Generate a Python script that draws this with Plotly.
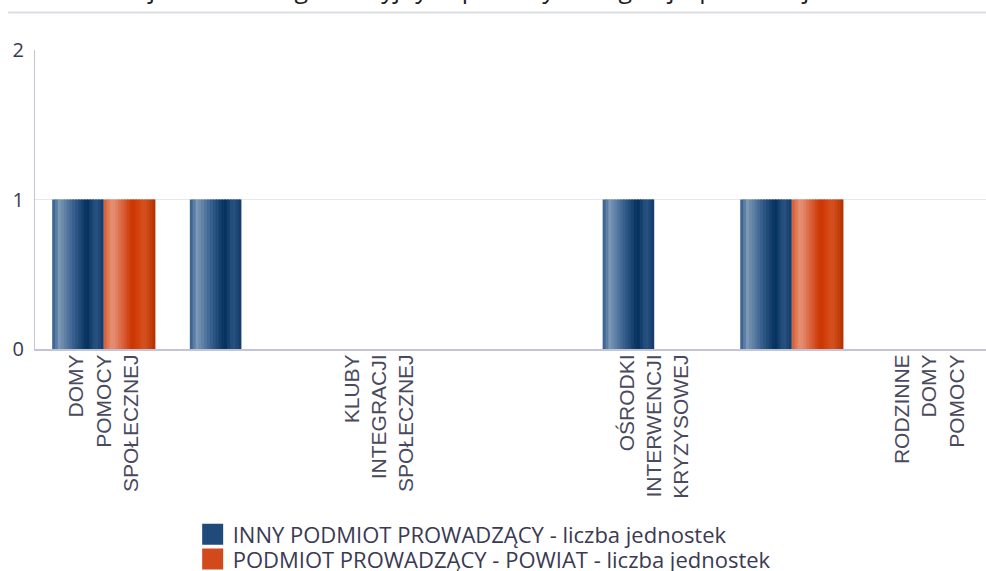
import plotly.graph_objects as go

# ---- data ----
categories = [
    "DOMY POMOCY SPOŁECZNEJ",
    "JEDNOSTKI SPECJALISTYCZNEGO PORADNICTWA",
    "KLUBY INTEGRACJI SPOŁECZNEJ",
    "MIESZKANIA CHRONIONE",
    "OŚRODKI INTERWENCJI KRYZYSOWEJ",
    "OŚRODKI WSPARCIA",
    "RODZINNE DOMY POMOCY",
]
shown_ticks = [
    "DOMY POMOCY SPOŁECZNEJ",
    "KLUBY INTEGRACJI SPOŁECZNEJ",
    "OŚRODKI INTERWENCJI KRYZYSOWEJ",
    "RODZINNE DOMY POMOCY",
]
tick_labels = [
    "DOMY<br>POMOCY<br>SPOŁECZNEJ",
    "KLUBY<br>INTEGRACJI<br>SPOŁECZNEJ",
    "OŚRODKI<br>INTERWENCJI<br>KRYZYSOWEJ",
    "RODZINNE<br>DOMY<br>POMOCY",
]
inny_values = [1, 1, 0, 0, 1, 1, 0]
powiat_values = [1, 0, 0, 0, 0, 1, 0]
series_names = [
    "INNY PODMIOT PROWADZĄCY - liczba jednostek",
    "PODMIOT PROWADZĄCY - POWIAT - liczba jednostek",
]
title_text = "Liczba jednostek organizacyjnych pomocy i integracji społecznej"

# ---- style ----
blue_stops = [(0.0, "#2e5a8a"), (0.14, "#7b97b5"), (0.40, "#3a6290"),
              (0.68, "#03305e"), (0.84, "#2a5481"), (1.0, "#11396a")]
orange_stops = [(0.0, "#d65a2c"), (0.16, "#e6937a"), (0.40, "#d65a30"),
                (0.55, "#cc3300"), (0.78, "#d6531f"), (1.0, "#b53000")]
legend_colors = ["#1f4a7a", "#d24a1c"]
N_STRIPS = 18
BAR_W = 0.375


def hex2rgb(h):
    h = h.lstrip("#")
    return tuple(int(h[i:i + 2], 16) for i in (0, 2, 4))


def interp(stops, t):
    for (p0, c0), (p1, c1) in zip(stops[:-1], stops[1:]):
        if p0 <= t <= p1:
            f = (t - p0) / (p1 - p0) if p1 > p0 else 0
            a, b = hex2rgb(c0), hex2rgb(c1)
            return "rgb(%d,%d,%d)" % tuple(round(a[k] + (b[k] - a[k]) * f) for k in range(3))
    return stops[-1][1]


fig = go.Figure()

for values, stops, base_off in [(inny_values, blue_stops, -BAR_W), (powiat_values, orange_stops, 0.0)]:
    sw = BAR_W / N_STRIPS
    for i in range(N_STRIPS):
        t = (i + 0.5) / N_STRIPS
        width = sw * 1.6 if i < N_STRIPS - 1 else sw
        fig.add_trace(go.Bar(
            x=categories, y=values,
            offset=base_off + i * sw, width=width,
            marker=dict(color=interp(stops, t), line=dict(width=0)),
            showlegend=False, hoverinfo="skip",
        ))

# legend entries
for name, col, lg in zip(series_names, legend_colors, ["legend", "legend2"]):
    fig.add_trace(go.Scatter(
        x=[None], y=[None], mode="markers", name=name, legend=lg,
        marker=dict(symbol="square", size=16, color=col, line=dict(width=5, color=col)),
    ))

legend_font = dict(family="Open Sans", size=22, color="#3a3a52")
fig.update_layout(
    width=986, height=571,
    margin=dict(l=35, r=0, t=50, b=222, autoexpand=False),
    paper_bgcolor="white", plot_bgcolor="white",
    barmode="overlay",
    font=dict(family="Open Sans", color="#3a3a52"),
    legend=dict(x=0.1658, xanchor="left", y=-0.6204, yanchor="middle",
                bgcolor="rgba(0,0,0,0)", font=legend_font),
    legend2=dict(x=0.1658, xanchor="left", y=-0.703, yanchor="middle",
                 bgcolor="rgba(0,0,0,0)", font=legend_font),
    xaxis=dict(
        type="category", range=[-0.5, 6.411],
        tickmode="array", tickvals=shown_ticks, ticktext=tick_labels,
        tickangle=-90, tickfont=dict(family="Liberation Sans", size=21, color="#4a4a5e"),
        ticklabelstandoff=-5,
        showline=True, linecolor="#c4c4d8", linewidth=2, showgrid=False, ticks="",
        fixedrange=True,
    ),
    yaxis=dict(
        range=[0, 2], dtick=1, showgrid=True, gridcolor="#e6e6ee", gridwidth=1,
        showline=True, linecolor="#c4c4d8", linewidth=1, zeroline=False, ticks="",
        tickfont=dict(family="Open Sans", size=20, color="#3a3a52"), ticklabelstandoff=6,
    ),
    shapes=[dict(type="line", xref="paper", yref="paper", x0=-0.0284, x1=1.0,
                 y0=1.1254, y1=1.1254, line=dict(color="#dcdce6", width=2))],
    annotations=[dict(text=title_text, xref="paper", yref="paper", x=0.0348, y=1.1438,
                      xanchor="left", yanchor="bottom", showarrow=False,
                      font=dict(family="Open Sans", size=25, color="#222222"))],
)

fig.write_html("out.html", config={"displayModeBar": False},
               post_script="document.body.style.margin='0px';")
